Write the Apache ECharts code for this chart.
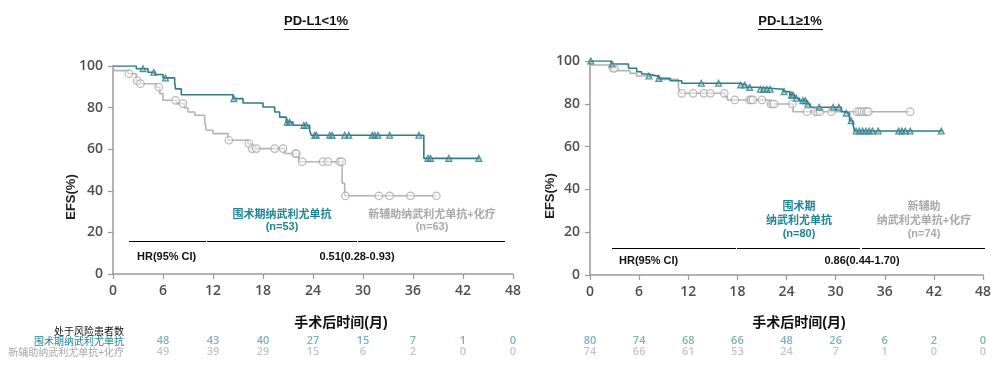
<!DOCTYPE html>
<html><head><meta charset="utf-8">
<script src="https://cdn.jsdelivr.net/npm/echarts@6/dist/echarts.min.js"></script>
<style>html,body{margin:0;padding:0;background:#fff}#c{width:1000px;height:372px}</style>
</head><body><div id="c"></div>
<script>
// ---- Data: PD-L1<1% ----
const perioLowT = [0, 2.8, 4.2, 5.0, 6.0, 7.4, 7.5, 8.2, 14.4, 15.6, 18.0, 19.4, 20.0, 20.8, 21.6, 23.6, 23.8, 37.3, 44.0];
const perioLowS = [100, 98.7, 97.0, 95.9, 94.3, 92.2, 89.0, 86.2, 84.3, 82.2, 80.3, 77.9, 75.4, 73.0, 71.5, 69.0, 66.7, 55.6, 55.6];
const perioLowCens = [3.6, 4.9, 6.3, 14.5, 20.9, 21.2, 22.9, 23.2, 24.2, 24.4, 26.0, 26.3, 27.8, 28.3, 31.1, 31.4, 31.8, 33.2, 36.7, 37.8, 38.1, 40.3, 43.9];
const neoLowT = [0, 0.1, 1.8, 2.8, 3.2, 5.2, 5.6, 6.0, 7.6, 8.6, 9.0, 9.8, 11.0, 11.2, 12.0, 13.8, 16.2, 16.6, 20.6, 22.3, 27.5, 27.8, 38.8];
const neoLowS = [100, 97.8, 96.3, 93.0, 91.5, 89.8, 86.7, 83.5, 81.9, 79.8, 77.9, 76.3, 73.9, 69.1, 67.5, 64.3, 62.7, 60.3, 57.9, 54.0, 43.6, 37.6, 37.6];
const neoLowCens = [1.9, 2.9, 3.3, 5.5, 7.5, 8.4, 13.9, 16.3, 16.7, 17.2, 19.4, 20.4, 21.9, 22.0, 22.7, 25.2, 25.8, 27.2, 27.45, 27.9, 31.9, 33.2, 35.7, 38.8];

// ---- Data: PD-L1>=1% ----
const perioHighT = [0, 2.6, 4.7, 5.7, 6.3, 7.1, 8.3, 9.8, 11.2, 18.3, 19.1, 20.3, 23.6, 24.4, 25.0, 25.6, 26.5, 26.9, 30.7, 31.1, 31.7, 32.1, 32.3, 43.1];
const perioHighS = [100, 98.6, 96.6, 95.0, 93.9, 93.0, 91.9, 90.8, 89.6, 88.8, 87.7, 86.8, 85.7, 84.1, 82.6, 81.5, 79.9, 78.4, 76.3, 75.6, 72.1, 70.9, 67.3, 67.3];
const perioHighCens = [0.1, 2.7, 7.2, 8.4, 13.6, 15.7, 18.4, 18.9, 19.5, 20.8, 21.2, 21.6, 22.0, 23.7, 24.6, 24.8, 25.2, 26.0, 26.3, 26.6, 28.0, 29.7, 30.4, 31.3, 31.9, 32.5, 32.9, 33.3, 33.7, 34.1, 34.5, 35.2, 37.7, 38.1, 38.5, 39.1, 42.9];
const neoHighT = [0, 0.1, 2.4, 3.1, 4.9, 5.7, 8.5, 10.8, 11.0, 16.5, 16.8, 22.0, 24.8, 39.1];
const neoHighS = [100, 98.1, 96.6, 95.5, 94.2, 93.0, 91.4, 87.7, 84.9, 83.3, 81.8, 79.9, 76.3, 76.3];
const neoHighCens = [2.8, 3.0, 11.2, 12.6, 13.9, 14.7, 16.4, 17.7, 19.5, 19.7, 19.9, 21.0, 22.1, 22.3, 22.5, 24.7, 26.5, 27.5, 27.8, 28.1, 29.5, 32.6, 32.9, 33.2, 33.5, 33.8, 34.0, 39.1];

// ---- Number at risk ----
const riskTimesLow = [6, 12, 18, 24, 30, 36, 42, 48];
const riskPerioLow = [48, 43, 40, 27, 15, 7, 1, 0];
const riskNeoLow = [49, 39, 29, 15, 6, 2, 0, 0];
const riskTimesHigh = [0, 6, 12, 18, 24, 30, 36, 42, 48];
const riskPerioHigh = [80, 74, 68, 66, 48, 26, 6, 2, 0];
const riskNeoHigh = [74, 66, 61, 53, 24, 7, 1, 0, 0];

// ---- Texts ----
const titles = ['PD-L1<1%', 'PD-L1≥1%'];
const yName = 'EFS(%)';
const xName = '手术后时间(月)';
const riskHeader = '处于风险患者数';
const armPerio = '围术期纳武利尤单抗';
const armNeo = '新辅助纳武利尤单抗+化疗';
const hrLabel = 'HR(95% CI)';
const hrValues = ['0.51(0.28-0.93)', '0.86(0.44-1.70)'];
const nLow = ['(n=53)', '(n=63)'];
const nHigh = ['(n=80)', '(n=74)'];

const TEAL = '#2f7c8b', TEAL_TXT = '#1f8595', TEAL_NUM = '#5a9cad';
const GREY = '#b3b3b3', GREY_TXT = '#a9a9a9', GREY_NUM = '#b5b5b5';
const AX = '#9a9a9a', AXLBL = '#4f4f4f';
const FONT = "'Liberation Sans','Noto Sans CJK SC',sans-serif";
const NUMFONT = "'Open Sans','Noto Sans',sans-serif";

function pairs(T, S) { return T.map((t, i) => [t, S[i]]); }
function survAt(T, S, t) { let s = S[0]; for (let i = 0; i < T.length; i++) { if (T[i] <= t) s = S[i]; } return s; }
function cens(T, S, C) { return C.map(t => [t, survAt(T, S, t)]); }

const grids = [
  { left: 113, top: 66, width: 400, height: 208 },
  { left: 590, top: 61, width: 393, height: 214 },
  { left: 113, top: 341, width: 400, height: 11 },
  { left: 590, top: 341, width: 393, height: 11 }
];
function kmX(g) {
  return { gridIndex: g, type: 'value', min: 0, max: 48, interval: 6,
    axisLine: { show: true, lineStyle: { color: AX, width: 1.5 } },
    axisTick: { show: true, length: 5, lineStyle: { color: AX, width: 1.2 } },
    axisLabel: { color: AXLBL, fontSize: 14, fontFamily: NUMFONT, fontWeight: 600, margin: 10 },
    splitLine: { show: false } };
}
function kmY(g) {
  return { gridIndex: g, type: 'value', min: 0, max: 100, interval: 20,
    axisLine: { show: true, lineStyle: { color: AX, width: 1.5 } },
    axisTick: { show: true, length: 5, lineStyle: { color: AX, width: 1.2 } },
    axisLabel: { color: AXLBL, fontSize: 14, fontFamily: NUMFONT, fontWeight: 600, margin: 10 },
    splitLine: { show: false } };
}
function hidX(g) { return { gridIndex: g, type: 'value', min: 0, max: 48, show: false }; }
function hidY(g) { return { gridIndex: g, type: 'value', min: 0, max: 1, show: false }; }

function stepLine(g, T, S, color) {
  return { type: 'line', xAxisIndex: g, yAxisIndex: g, step: 'end', data: pairs(T, S), showSymbol: false,
    lineStyle: { color: color, width: 1.6 }, silent: true, z: 3 };
}
function censSeries(g, T, S, C, kind) {
  const teal = kind === 'teal';
  return { type: 'scatter', xAxisIndex: g, yAxisIndex: g, data: cens(T, S, C),
    symbol: teal ? 'triangle' : 'circle', symbolSize: teal ? 6 : 7.5,
    itemStyle: { color: teal ? 'rgba(110,165,175,0.6)' : 'rgba(255,255,255,0.6)', borderColor: teal ? TEAL : '#a8a8a8', borderWidth: 1.2 },
    silent: true, z: 4 };
}
function riskSeries(g, times, vals, y, color) {
  return { type: 'scatter', xAxisIndex: g, yAxisIndex: g, symbolSize: 1,
    itemStyle: { color: 'rgba(0,0,0,0)' },
    data: times.map((t, i) => [t, y, vals[i]]),
    label: { show: true, position: 'inside', formatter: p => String(p.value[2]), color: color, fontSize: 11, fontFamily: NUMFONT, fontWeight: 600 },
    silent: true };
}

function tText(x, y, text, size, weight, fill, align) {
  return { type: 'text', x: x, y: y, silent: true,
    style: { text: text, fontFamily: FONT, fontSize: size, fontWeight: weight, fill: fill, align: align || 'center', verticalAlign: 'middle' } };
}
const hLine = (x1, x2, y, color, w) => ({ type: 'line', silent: true, shape: { x1: x1, y1: y, x2: x2, y2: y }, style: { stroke: color || '#000', lineWidth: w || 1 } });

const graphic = [
  // titles
  tText(316, 21, titles[0], 13, 'bold', '#111'),
  hLine(284, 349, 29.5, '#111', 1),
  tText(790, 21, titles[1], 13, 'bold', '#111'),
  hLine(758, 823, 29.5, '#111', 1),
  // y-axis names
  Object.assign(tText(71, 197, yName, 13, 'bold', '#222'), { rotation: Math.PI / 2 }),
  Object.assign(tText(550, 196, yName, 13, 'bold', '#222'), { rotation: Math.PI / 2 }),
  // x-axis names
  tText(341, 323, xName, 14, 'bold', '#111'),
  tText(799, 323, xName, 14, 'bold', '#111'),
  // left annotation
  tText(282, 215, armPerio, 11, 'bold', TEAL_TXT),
  tText(282, 227, nLow[0], 11, 'bold', TEAL_TXT),
  tText(432, 215, armNeo, 11, 'bold', GREY_TXT),
  tText(432, 227, nLow[1], 11, 'bold', GREY_TXT),
  hLine(129, 206, 241.5), hLine(207, 357, 241.5), hLine(358, 505, 241.5),
  tText(137, 257, hrLabel, 11, 'bold', '#111', 'left'),
  tText(357, 257, hrValues[0], 11, 'bold', '#111'),
  // right annotation
  tText(799, 207, '围术期', 11, 'bold', TEAL_TXT),
  tText(799, 221, '纳武利尤单抗', 11, 'bold', TEAL_TXT),
  tText(799, 234, nHigh[0], 11, 'bold', TEAL_TXT),
  tText(924, 207, '新辅助', 11, 'bold', GREY_TXT),
  tText(924, 221, '纳武利尤单抗+化疗', 11, 'bold', GREY_TXT),
  tText(924, 234, nHigh[1], 11, 'bold', GREY_TXT),
  hLine(612, 736, 248.5), hLine(737, 860, 248.5), hLine(862, 985, 248.5),
  tText(619, 261, hrLabel, 11, 'bold', '#111', 'left'),
  tText(862, 261, hrValues[1], 11, 'bold', '#111'),
  // risk table headers
  tText(124, 332, riskHeader, 10, 'normal', '#111', 'right'),
  tText(124, 342, armPerio, 10, 'normal', TEAL_TXT, 'right'),
  tText(124, 353, armNeo, 10, 'normal', GREY_TXT, 'right')
];

const option = {
  animation: false,
  backgroundColor: '#fff',
  grid: grids,
  xAxis: [kmX(0), kmX(1), hidX(2), hidX(3)],
  yAxis: [kmY(0), kmY(1), hidY(2), hidY(3)],
  series: [
    stepLine(0, neoLowT, neoLowS, GREY),
    stepLine(0, perioLowT, perioLowS, TEAL),
    censSeries(0, neoLowT, neoLowS, neoLowCens, 'grey'),
    censSeries(0, perioLowT, perioLowS, perioLowCens, 'teal'),
    stepLine(1, neoHighT, neoHighS, GREY),
    stepLine(1, perioHighT, perioHighS, TEAL),
    censSeries(1, neoHighT, neoHighS, neoHighCens, 'grey'),
    censSeries(1, perioHighT, perioHighS, perioHighCens, 'teal'),
    riskSeries(2, riskTimesLow, riskPerioLow, 1, TEAL_NUM),
    riskSeries(2, riskTimesLow, riskNeoLow, 0, GREY_NUM),
    riskSeries(3, riskTimesHigh, riskPerioHigh, 1, TEAL_NUM),
    riskSeries(3, riskTimesHigh, riskNeoHigh, 0, GREY_NUM)
  ],
  graphic: graphic
};
const chart = echarts.init(document.getElementById('c'), null, { renderer: 'canvas' });
chart.setOption(option);
</script></body></html>
